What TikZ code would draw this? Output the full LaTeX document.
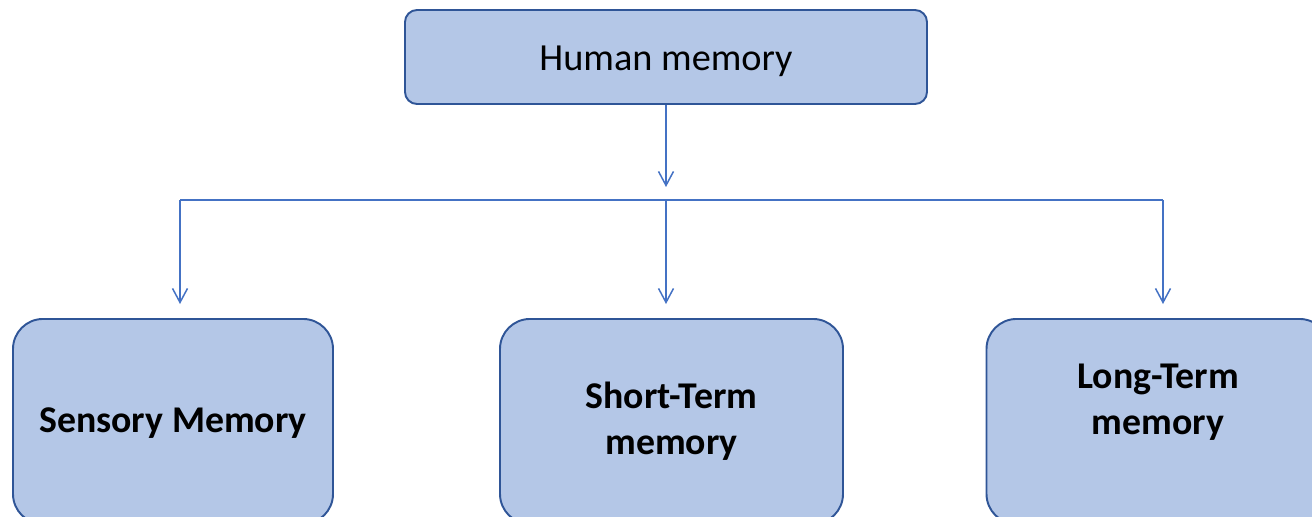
\documentclass[tikz,border=0pt]{standalone}
\usepackage{fontspec}
\setmainfont{Carlito}
\usepackage{xcolor}
\usetikzlibrary{arrows.meta, positioning}

\definecolor{boxfill}{HTML}{B4C7E7}
\definecolor{boxdraw}{HTML}{2F5597}
\definecolor{linkblue}{HTML}{4472C4}

\begin{document}
\begin{tikzpicture}[
    % caixa de cima
    topbox/.style={rectangle, draw=boxdraw, line width=1.1pt, rounded corners=0.24cm, fill=boxfill, minimum height=1.88cm, minimum width=10.44cm, align=center, font=\fontsize{21.8}{26}\selectfont},
    % caixas de baixo
    lowbox/.style={rectangle, draw=boxdraw, line width=1.1pt, rounded corners=0.6cm, fill=boxfill, minimum height=4.1cm, align=center, anchor=north, font=\fontsize{21.5}{26}\selectfont\bfseries},
    arrow/.style={-{Straight Barb[length=0.28cm, width=0.3cm]}, draw=linkblue, line width=0.85pt},
    line/.style={draw=linkblue, line width=0.85pt}
]
\clip (0,0) rectangle (26.24,-10.34);
\useasboundingbox (0,0) rectangle (26.24,-10.34);

% 1. Memoria humana
\node[topbox] (human) at (13.32,-1.14) {\raisebox{-0.08cm}[\height][\depth]{Human memory}};

% 2. Caixas de baixo
\node[lowbox, minimum width=6.4cm] (sensory) at (3.46,-6.36) {\raisebox{-0.04cm}[\height][\depth]{Sensory Memory}};
\node[lowbox, minimum width=6.86cm] (short) at (13.43,-6.36) {Short-Term\\memory};
\node[lowbox, minimum width=6.86cm, label={[font=\fontsize{21.5}{26}\selectfont\bfseries, align=center, yshift=0.39cm]center:{Long-Term\\memory}}] (long) at (23.16,-6.36) {};

% 3. Pontos de ligacao
\coordinate (split) at (13.32,-4.0);
\coordinate (hubtip) at (13.32,-3.74);
\coordinate (senstip) at (3.6,-6.08);
\coordinate (shorttip) at (13.32,-6.08);
\coordinate (longtip) at (23.26,-6.08);

% 4. Setas
\draw[arrow] (human.south) -- (hubtip);
\draw[line] (senstip |- split) -- (longtip |- split);
\draw[arrow] (senstip |- split) -- (senstip);
\draw[arrow] (split) -- (shorttip);
\draw[arrow] (longtip |- split) -- (longtip);

\end{tikzpicture}
\end{document}
